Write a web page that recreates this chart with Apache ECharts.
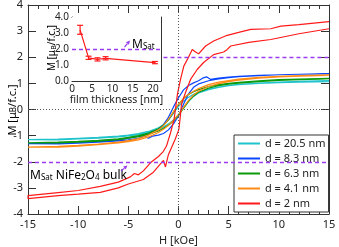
<!DOCTYPE html>
<html><head><meta charset="utf-8">
<script src="https://cdn.jsdelivr.net/npm/echarts@6/dist/echarts.min.js"></script>
<style>html,body{margin:0;padding:0;background:#fff}#c{width:339px;height:247px}</style>
</head><body><div id="c"></div>
<script>
// ---------- data ----------
const legendNames = ['d = 20.5 nm', 'd = 8.3 nm', 'd = 6.3 nm', 'd = 4.1 nm', 'd = 2 nm'];
const colors = ['#1ec3cc', '#0a46ff', '#0a9a0a', '#ff8a14', '#ff1a1a'];

const H_GRID = [-15,-12,-10,-8,-6,-5,-4,-3,-2,-1.5,-1,-0.5,0,0.5,1,1.5,2,3,4,5,6,8,10,12,15];

const cyanDesc   = [-1.15,-1.13,-1.1,-1.07,-1.02,-0.98,-0.92,-0.84,-0.7,-0.58,-0.4,-0.15,0.12,0.32,0.47,0.58,0.66,0.78,0.86,0.92,0.96,1.01,1.05,1.08,1.11];
const cyanAsc    = [-1.19,-1.16,-1.13,-1.1,-1.05,-1.01,-0.96,-0.88,-0.76,-0.67,-0.55,-0.4,-0.2,0.05,0.3,0.5,0.63,0.76,0.85,0.91,0.95,1.0,1.03,1.05,1.07];
const greenDesc  = [-1.28,-1.25,-1.22,-1.18,-1.12,-1.07,-1.0,-0.9,-0.74,-0.6,-0.4,-0.1,0.2,0.42,0.58,0.68,0.76,0.88,0.95,1.0,1.04,1.1,1.14,1.16,1.19];
const greenAsc   = [-1.31,-1.28,-1.25,-1.21,-1.15,-1.1,-1.04,-0.95,-0.82,-0.72,-0.6,-0.44,-0.22,0.05,0.32,0.52,0.66,0.82,0.91,0.97,1.01,1.07,1.11,1.14,1.17];
const orangeDesc = [-1.44,-1.41,-1.37,-1.32,-1.25,-1.19,-1.11,-0.98,-0.78,-0.62,-0.38,-0.08,0.2,0.42,0.58,0.7,0.8,0.95,1.05,1.11,1.16,1.23,1.27,1.3,1.33];
const orangeAsc  = [-1.47,-1.44,-1.4,-1.35,-1.28,-1.23,-1.16,-1.05,-0.88,-0.76,-0.6,-0.42,-0.2,0.08,0.35,0.56,0.7,0.88,0.99,1.07,1.12,1.2,1.25,1.28,1.31];

const blueDescH = [-15,-12,-10,-8,-6,-5,-4,-3,-2,-1.5,-1,-0.5,0,0.5,1,1.5,2,2.4,2.8,3.2,4,5,6,8,10,12,15];
const blueDescM = [-1.31,-1.28,-1.25,-1.21,-1.15,-1.1,-1.03,-0.93,-0.75,-0.58,-0.3,0.1,0.45,0.75,0.92,1.02,1.1,1.2,1.25,1.15,1.2,1.24,1.27,1.31,1.33,1.35,1.37];
const blueAscH  = [-15,-12,-10,-8,-6,-5,-4,-3.4,-3,-2.6,-2,-1.5,-1,-0.5,0,0.5,1,1.5,2,3,4,5,6,8,10,12,15];
const blueAscM  = [-1.35,-1.32,-1.29,-1.25,-1.2,-1.16,-1.1,-1.02,-1.1,-1.02,-0.98,-0.92,-0.78,-0.55,-0.25,0.2,0.6,0.85,0.98,1.1,1.17,1.22,1.26,1.3,1.33,1.35,1.36];

const redDescH = [-15,-12,-10,-7.8,-6,-4.8,-4.4,-4.0,-3.5,-2.8,-2,-1.5,-1.2,-0.8,-0.44,-0.1,0.2,0.53,1,1.37,1.7,2.0,2.7,3.5,4.86,6,7.2,9.2,10.2,12,15];
const redDescM = [-3.3,-3.18,-3.1,-2.94,-2.78,-2.58,-2.45,-2.5,-2.35,-2.04,-1.8,-1.6,-1.4,-0.9,-0.38,0.6,1.15,1.66,2.0,2.3,2.2,2.13,2.43,2.62,2.84,2.95,3.07,3.09,3.19,3.25,3.36];
const redAscH  = [-15,-12,-10,-7.8,-6,-5,-3.5,-2.5,-1.84,-1.5,-1.3,-1.0,-0.34,0.03,0.15,0.3,0.7,1.2,1.86,2.5,3.5,4.5,4.86,5.2,7,9.2,12,15];
const redAscM  = [-3.41,-3.3,-3.24,-3.17,-3.0,-2.85,-2.68,-2.4,-2.1,-1.95,-2.2,-1.72,-1.15,-0.77,-0.38,0.2,0.65,1.15,1.53,1.8,2.1,2.2,2.3,2.43,2.57,2.68,2.9,3.09];

// inset
const thickness = [2, 4.1, 6.3, 8.3, 20.5];
const momentSat = [3.2, 1.45, 1.35, 1.42, 1.15];
const momentErr = [0.28, 0.1, 0.1, 0.1, 0.07];

// reference levels
const bulkMsat = 2;
const msatLineStartH = -1.5;

// ticks
const mainXTicks = {min: -15, max: 15, interval: 5};
const mainYTicks = {min: -4, max: 4, interval: 1};
const insetXTicks = {min: 0, max: 22, interval: 5};
const insetYTicks = {min: 0, max: 4, interval: 1};

// ---------- build ----------
function loop(descH, descM, ascH, ascM) {
  const pts = [];
  for (let i = descH.length - 1; i >= 0; i--) pts.push([descH[i], descM[i]]);
  for (let i = 0; i < ascH.length; i++) pts.push([ascH[i], ascM[i]]);
  return pts;
}
const loops = [
  loop(H_GRID, cyanDesc, H_GRID, cyanAsc),
  loop(blueDescH, blueDescM, blueAscH, blueAscM),
  loop(H_GRID, greenDesc, H_GRID, greenAsc),
  loop(H_GRID, orangeDesc, H_GRID, orangeAsc),
  loop(redDescH, redDescM, redAscH, redAscM)
];

const FONT = 'Noto Sans';
const TXT = '#222';
const AX = '#333';
const PURPLE = '#9a3cf0';
const PURPLE_TXT = '#8636d8';

function mainAxis(pos, showLabel, ticks, isX) {
  const o = Object.assign({
    type: 'value', gridIndex: 0, position: pos,
    axisLine: {show: true, onZero: false, lineStyle: {color: AX, width: 1}},
    axisTick: {show: true, inside: true, length: 8, lineStyle: {color: AX}},
    axisLabel: {show: showLabel, margin: 5, fontSize: 11, fontFamily: FONT, color: TXT},
    splitLine: {show: false}
  }, ticks);
  if (isX) o.minorTick = {show: true, splitNumber: 5, length: 4, lineStyle: {color: AX}};
  return o;
}
function insetAxis(pos, showLabel, ticks, fmt) {
  return Object.assign({
    type: 'value', gridIndex: 1, position: pos,
    axisLine: {show: true, onZero: false, lineStyle: {color: AX, width: 1}},
    axisTick: {show: true, inside: true, length: 5, lineStyle: {color: AX}},
    axisLabel: {show: showLabel, margin: 3, fontSize: 10, fontFamily: FONT, color: TXT, formatter: fmt,
      showMaxLabel: false},
    splitLine: {show: false}
  }, ticks);
}

const xMain = mainAxis('bottom', true, mainXTicks, true);
xMain.name = 'H [kOe]';
xMain.nameLocation = 'middle';
xMain.nameGap = 17;
xMain.nameTextStyle = {fontSize: 11, fontFamily: FONT, color: TXT};
const xMainTop = mainAxis('top', false, mainXTicks, true);
const yMain = mainAxis('left', true, mainYTicks, false);
const yMainRight = mainAxis('right', false, mainYTicks, false);

const xInset = insetAxis('bottom', true, insetXTicks, v => (v % 5 === 0 ? String(v) : ''));
xInset.name = 'film thickness [nm]';
xInset.nameLocation = 'middle';
xInset.nameGap = 13;
xInset.nameTextStyle = {fontSize: 10.5, fontFamily: FONT, color: TXT};
const xInsetTop = insetAxis('top', false, insetXTicks);
const yInset = insetAxis('left', true, insetYTicks, v => v.toFixed(1));
yInset.axisLabel.showMaxLabel = true;
const yInsetRight = insetAxis('right', false, insetYTicks);

const series = loops.map((d, i) => ({
  type: 'line', name: legendNames[i], xAxisIndex: 0, yAxisIndex: 0,
  data: d, symbol: 'none', smooth: false, z: 2 + i * 0.01,
  lineStyle: {color: colors[i], width: 1.2}, itemStyle: {color: colors[i]}
}));
series[0].markLine = {
  silent: true, symbol: 'none', label: {show: false}, animation: false,
  data: [
    {xAxis: 0, lineStyle: {type: [1, 2], color: '#555', width: 1}},
    {yAxis: 0, lineStyle: {type: [1, 2], color: '#555', width: 1}},
    [{coord: [msatLineStartH, bulkMsat], lineStyle: {type: [4, 3], color: PURPLE, width: 1.4}},
     {coord: [mainXTicks.max, bulkMsat]}],
    [{coord: [mainXTicks.min, -bulkMsat], lineStyle: {type: [4, 3], color: PURPLE, width: 1.4}},
     {coord: [mainXTicks.max, -bulkMsat]}]
  ]
};

// inset series
series.push({
  type: 'line', xAxisIndex: 2, yAxisIndex: 2, symbol: 'none',
  data: thickness.map((t, i) => [t, momentSat[i]]),
  lineStyle: {color: '#ff1a1a', width: 1.2}, z: 5,
  markLine: {
    silent: true, symbol: 'none', label: {show: false}, animation: false,
    data: [{yAxis: bulkMsat, lineStyle: {type: [4, 3], color: PURPLE, width: 1.4}}]
  }
});
series.push({
  type: 'custom', xAxisIndex: 2, yAxisIndex: 2, z: 6,
  data: thickness.map((t, i) => [t, momentSat[i], momentErr[i]]),
  encode: {x: 0, y: 1},
  renderItem: function (params, api) {
    const x = api.value(0), y = api.value(1), e = api.value(2);
    const top = api.coord([x, y + e]), bot = api.coord([x, y - e]);
    const w = 3;
    const st = {stroke: '#ff1a1a', lineWidth: 1.2};
    return {type: 'group', children: [
      {type: 'line', shape: {x1: top[0], y1: top[1], x2: bot[0], y2: bot[1]}, style: st},
      {type: 'line', shape: {x1: top[0] - w, y1: top[1], x2: top[0] + w, y2: top[1]}, style: st},
      {type: 'line', shape: {x1: bot[0] - w, y1: bot[1], x2: bot[0] + w, y2: bot[1]}, style: st}
    ]};
  }
});

function arrow(x1, y1, x2, y2) {
  const dx = x2 - x1, dy = y2 - y1, L = Math.hypot(dx, dy);
  const ux = dx / L, uy = dy / L, px = -uy, py = ux;
  const hl = 4, hw = 2;
  const bx = x2 - ux * hl, by = y2 - uy * hl;
  return [
    {type: 'line', z: 20, shape: {x1: x1, y1: y1, x2: bx, y2: by}, style: {stroke: PURPLE, lineWidth: 1.2}},
    {type: 'polygon', z: 20, shape: {points: [[x2, y2], [bx + px * hw, by + py * hw], [bx - px * hw, by - py * hw]]},
      style: {fill: PURPLE}}
  ];
}

const annRich = {
  m: {fontSize: 12, fontFamily: FONT, color: PURPLE_TXT, lineHeight: 18, verticalAlign: 'bottom'},
  s: {fontSize: 8, fontFamily: FONT, color: PURPLE_TXT, lineHeight: 8, verticalAlign: 'bottom'}
};
const nameRich = {
  a: {fontSize: 11, fontFamily: FONT, color: TXT, lineHeight: 16, verticalAlign: 'bottom'},
  s: {fontSize: 8, fontFamily: FONT, color: TXT, lineHeight: 8, verticalAlign: 'bottom'}
};
const nameRichSmall = {
  a: {fontSize: 10, fontFamily: FONT, color: TXT, lineHeight: 15, verticalAlign: 'bottom'},
  s: {fontSize: 7, fontFamily: FONT, color: TXT, lineHeight: 7, verticalAlign: 'bottom'}
};

const option = {
  animation: false,
  backgroundColor: '#fff',
  grid: [
    {left: 28, right: 10, top: 5, bottom: 33, containLabel: false, outerBoundsMode: 'none'},
    {left: 72, right: 178, top: 17, bottom: 166, containLabel: false, outerBoundsMode: 'none',
      show: true, backgroundColor: '#fff', borderWidth: 0, z: 3}
  ],
  xAxis: [xMain, xMainTop, xInset, xInsetTop],
  yAxis: [yMain, yMainRight, yInset, yInsetRight],
  legend: {
    data: legendNames, orient: 'vertical', left: 234, top: 135,
    padding: [2, 3, 2, 4], itemGap: 2, itemWidth: 22, itemHeight: 2, icon: 'rect',
    backgroundColor: '#fff', borderColor: '#333', borderWidth: 1, borderRadius: 0,
    textStyle: {fontSize: 11, fontFamily: FONT, color: TXT, lineHeight: 13},
    itemStyle: {borderWidth: 0}
  },
  graphic: [
    {type: 'text', x: 10, y: 110, rotation: Math.PI / 2, z: 20, style: {
      text: '{a|M [μ}{s|B}{a|/f.c.]}', rich: nameRich, verticalAlign: 'middle', align: 'center'}},
    {type: 'text', x: 50, y: 48, rotation: Math.PI / 2, z: 20, style: {
      text: '{a|M [μ}{s|B}{a|/f.c.]}', rich: nameRichSmall, verticalAlign: 'middle', align: 'center'}},
    {type: 'text', x: 30, y: 173, z: 20, style: {
      text: '{m|M}{s|Sat}{m| NiFe}{s|2}{m|O}{s|4}{m| bulk}', rich: annRich, verticalAlign: 'middle', align: 'left'}},
    {type: 'text', x: 132, y: 42, z: 20, style: {
      text: '{m|M}{s|Sat}', rich: annRich, verticalAlign: 'middle', align: 'left'}}
  ].concat(arrow(121, 171, 127.5, 165.5)).concat(arrow(124.5, 47, 130, 40.5)),
  series: series
};

const chart = echarts.init(document.getElementById('c'), null, {renderer: 'canvas'});
chart.setOption(option);
</script>
</body></html>
